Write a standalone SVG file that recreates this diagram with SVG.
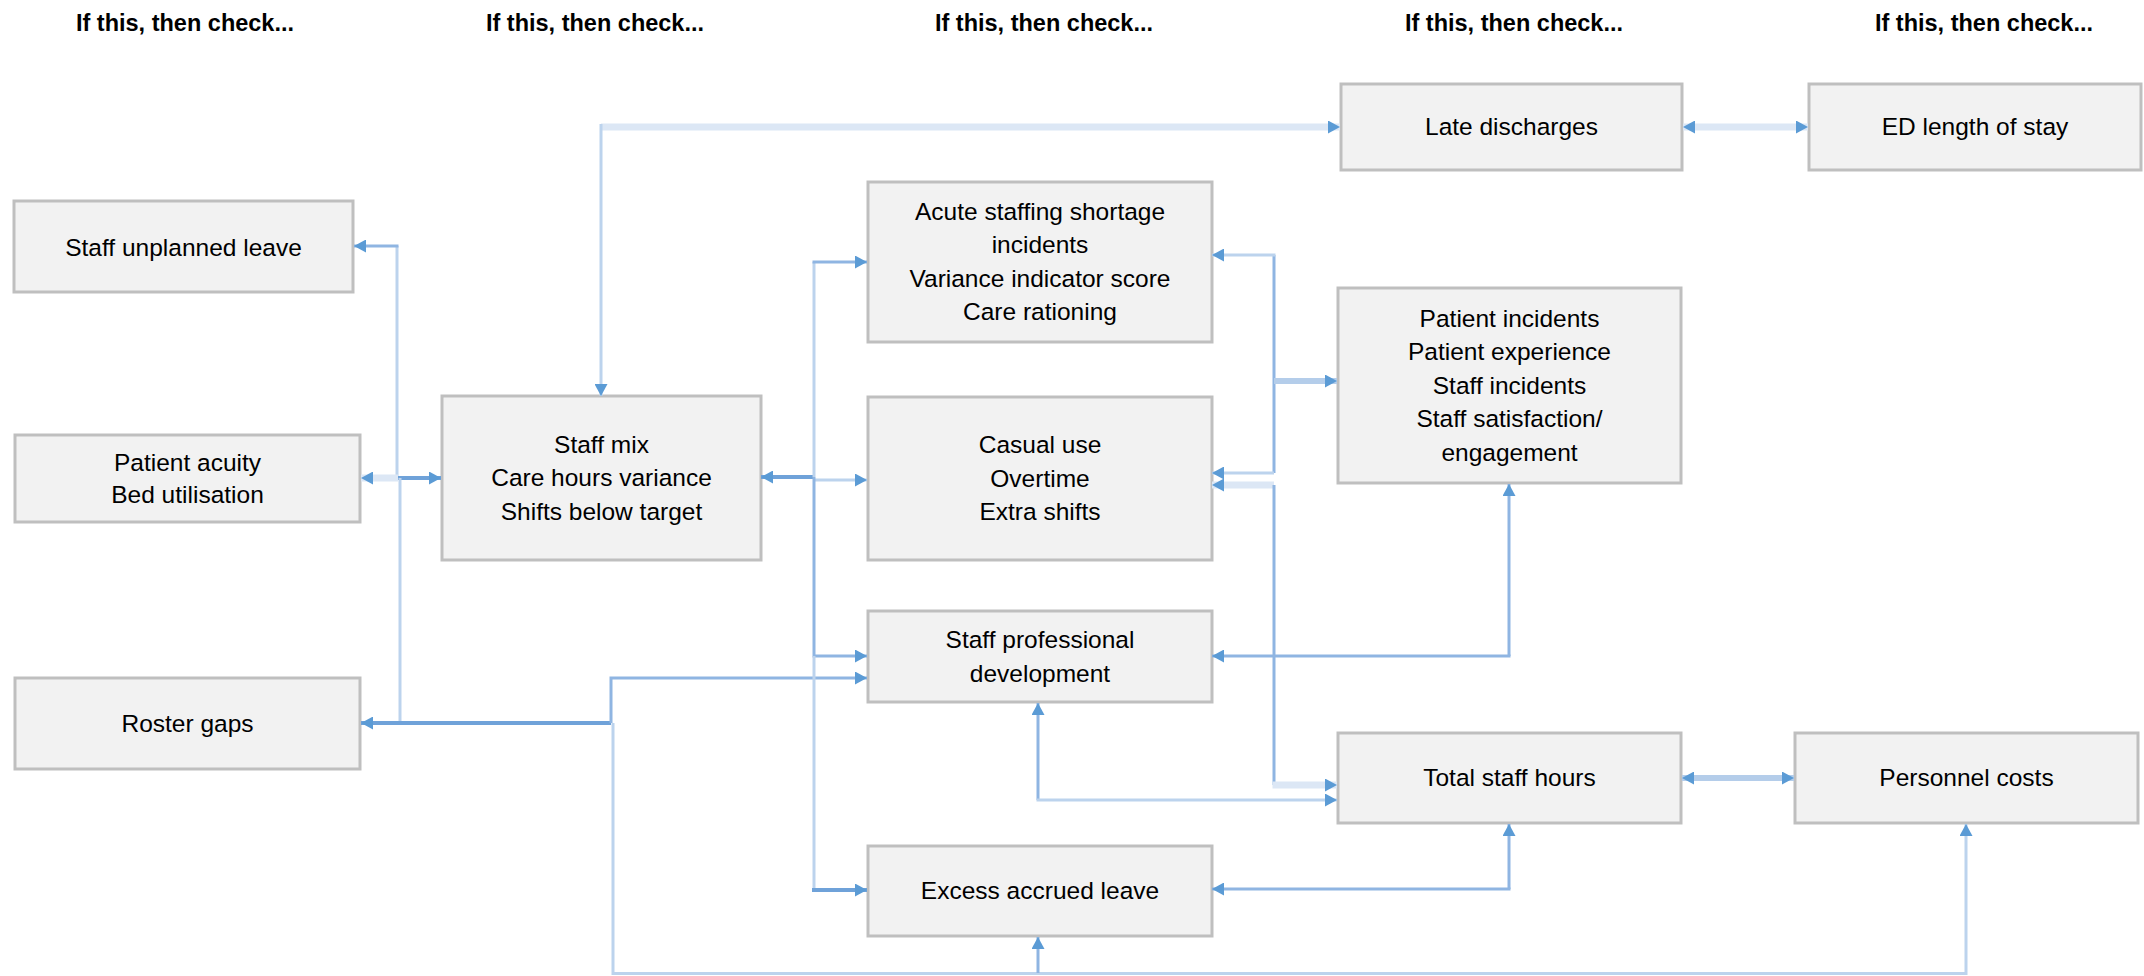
<svg xmlns="http://www.w3.org/2000/svg" width="2144" height="976" viewBox="0 0 2144 976">
<style>
.box{fill:#f2f2f2;stroke:#bfbfbf;stroke-width:3}
.t{font-family:"Liberation Sans",Arial,sans-serif;font-size:24.5px;fill:#000;text-anchor:middle}
.h{font-family:"Liberation Sans",Arial,sans-serif;font-size:23.5px;font-weight:bold;fill:#000;text-anchor:middle}
.c path{fill:none}
.l1{stroke:#6fa2d9;stroke-width:4}
.l2{stroke:#8fb5e2;stroke-width:3}
.l3{stroke:#bcd3ed;stroke-width:3}
.l4{stroke:#dce7f5;stroke-width:7}
.l5{stroke:#b4cdea;stroke-width:6}
</style>
<defs>
<marker id="a" viewBox="0 0 12 13" refX="12" refY="6.5" markerWidth="12" markerHeight="13" markerUnits="userSpaceOnUse" orient="auto-start-reverse">
<path d="M0,0 L12,6.5 L0,13 z" fill="#5b9bd5"/>
</marker>
</defs>
<rect width="2144" height="976" fill="#ffffff"/>
<g id="headers">
<text class="h" x="185" y="31">If this, then check...</text>
<text class="h" x="595" y="31">If this, then check...</text>
<text class="h" x="1044" y="31">If this, then check...</text>
<text class="h" x="1514" y="31">If this, then check...</text>
<text class="h" x="1984" y="31">If this, then check...</text>
</g>
<g id="n-unplanned"><rect class="box" x="14" y="201" width="339" height="91"/><text class="t" x="183.5" y="256">Staff unplanned leave</text></g>
<g id="n-acuity"><rect class="box" x="15" y="435" width="345" height="87"/><text class="t" x="187.5" y="471">Patient acuity</text><text class="t" x="187.5" y="503">Bed utilisation</text></g>
<g id="n-roster"><rect class="box" x="15" y="678" width="345" height="91"/><text class="t" x="187.5" y="732">Roster gaps</text></g>
<g id="n-staffmix"><rect class="box" x="442" y="396" width="319" height="164"/><text class="t" x="601.5" y="452.5">Staff mix</text><text class="t" x="601.5" y="486">Care hours variance</text><text class="t" x="601.5" y="519.5">Shifts below target</text></g>
<g id="n-acute"><rect class="box" x="868" y="182" width="344" height="160"/><text class="t" x="1040" y="220">Acute staffing shortage</text><text class="t" x="1040" y="253">incidents</text><text class="t" x="1040" y="287">Variance indicator score</text><text class="t" x="1040" y="320">Care rationing</text></g>
<g id="n-casual"><rect class="box" x="868" y="397" width="344" height="163"/><text class="t" x="1040" y="453">Casual use</text><text class="t" x="1040" y="486.5">Overtime</text><text class="t" x="1040" y="520">Extra shifts</text></g>
<g id="n-profdev"><rect class="box" x="868" y="611" width="344" height="91"/><text class="t" x="1040" y="648">Staff professional</text><text class="t" x="1040" y="681.5">development</text></g>
<g id="n-leave"><rect class="box" x="868" y="846" width="344" height="90"/><text class="t" x="1040" y="899">Excess accrued leave</text></g>
<g id="n-late"><rect class="box" x="1341" y="84" width="341" height="86"/><text class="t" x="1511.5" y="135">Late discharges</text></g>
<g id="n-incidents"><rect class="box" x="1338" y="288" width="343" height="195"/><text class="t" x="1509.5" y="326.5">Patient incidents</text><text class="t" x="1509.5" y="360">Patient experience</text><text class="t" x="1509.5" y="393.5">Staff incidents</text><text class="t" x="1509.5" y="427">Staff satisfaction/</text><text class="t" x="1509.5" y="460.5">engagement</text></g>
<g id="n-hours"><rect class="box" x="1338" y="733" width="343" height="90"/><text class="t" x="1509.5" y="786">Total staff hours</text></g>
<g id="n-ed"><rect class="box" x="1809" y="84" width="332" height="86"/><text class="t" x="1975" y="135">ED length of stay</text></g>
<g id="n-costs"><rect class="box" x="1795" y="733" width="343" height="90"/><text class="t" x="1966.5" y="786">Personnel costs</text></g>
<g id="connectors" class="c">
<path class="l4" d="M601,127 H1340" marker-end="url(#a)"/>
<path class="l3" d="M601,124 V396" marker-end="url(#a)"/>
<path class="l4" d="M1683,127 H1808" marker-start="url(#a)" marker-end="url(#a)"/>
<path class="l3" d="M397,478 V246"/>
<path class="l2" d="M398.5,246 H354" marker-end="url(#a)"/>
<path class="l4" d="M398,478 H361" marker-end="url(#a)"/>
<path class="l1" d="M398,478 H441" marker-end="url(#a)"/>
<path class="l3" d="M400,478 V723"/>
<path class="l1" d="M611,723 H361" marker-end="url(#a)"/>
<path class="l2" d="M611,723 V678 H867" marker-end="url(#a)"/>
<path class="l3" d="M613,723 V973.5 H1966 V824" marker-end="url(#a)"/>
<path class="l2" d="M1038,973 V937" marker-end="url(#a)"/>
<path class="l1" d="M814,477 H761" marker-end="url(#a)"/>
<path class="l3" d="M814,477 V262"/>
<path class="l2" d="M812.5,262 H867" marker-end="url(#a)"/>
<path class="l3" d="M814,480 H867" marker-end="url(#a)"/>
<path class="l2" d="M814,477 V656 H867" marker-end="url(#a)"/>
<path class="l3" d="M814,656 V890"/>
<path class="l1" d="M812,890 H867" marker-end="url(#a)"/>
<path class="l2" d="M1274,473 V255"/>
<path class="l3" d="M1275.5,255 H1212" marker-end="url(#a)"/>
<path class="l3" d="M1274,473 H1212" marker-end="url(#a)"/>
<path class="l5" d="M1274,381 H1337" marker-end="url(#a)"/>
<path class="l4" d="M1274,485 H1212" marker-end="url(#a)"/>
<path class="l2" d="M1274,485 V785"/>
<path class="l4" d="M1272.5,785 H1337" marker-end="url(#a)"/>
<path class="l2" d="M1509,656 V484" marker-end="url(#a)"/>
<path class="l2" d="M1510.5,656 H1212" marker-end="url(#a)"/>
<path class="l2" d="M1509,889 V824" marker-end="url(#a)"/>
<path class="l2" d="M1510.5,889 H1212" marker-end="url(#a)"/>
<path class="l2" d="M1038,800 V703" marker-end="url(#a)"/>
<path class="l3" d="M1036.5,800 H1337" marker-end="url(#a)"/>
<path class="l5" d="M1682,778 H1794" marker-start="url(#a)" marker-end="url(#a)"/>
</g>
</svg>
